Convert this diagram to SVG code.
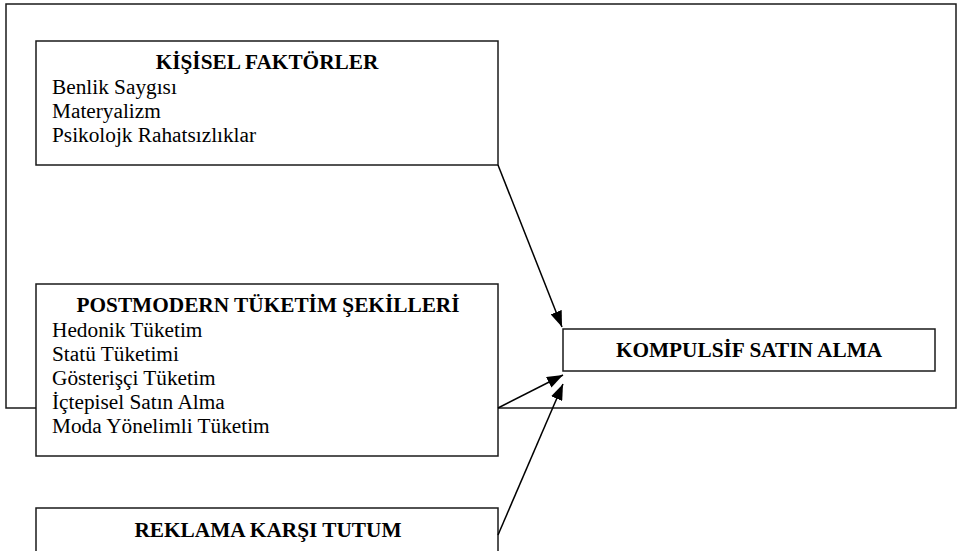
<svg xmlns="http://www.w3.org/2000/svg" width="958" height="551" viewBox="0 0 958 551">
<style>
.box{fill:#fff;stroke:#1a1a1a;stroke-width:1.5}
.frame{fill:none;stroke:#1a1a1a;stroke-width:1.5}
.t{font-family:"Liberation Serif","Times New Roman",serif;font-size:21.3px;fill:#000}
.b{font-weight:bold;text-anchor:middle}
.conn{stroke:#000;stroke-width:1.5;fill:none}
</style>
<defs>
<marker id="ah" markerUnits="userSpaceOnUse" markerWidth="16" markerHeight="12" viewBox="0 0 16 12" refX="16" refY="6" orient="auto">
<path d="M0,0 L16,6 L0,12 Z" fill="#000"/>
</marker>
</defs>
<rect class="frame" x="6" y="4" width="950" height="404"/>
<g id="kisisel">
<rect class="box" x="36" y="41" width="462" height="124"/>
<text class="t b" x="267" y="69">KİŞİSEL FAKTÖRLER</text>
<text class="t" x="52" y="94">Benlik Saygısı</text>
<text class="t" x="52" y="118">Materyalizm</text>
<text class="t" x="52" y="142">Psikolojk Rahatsızlıklar</text>
</g>
<g id="postmodern">
<rect class="box" x="36" y="284" width="462" height="172"/>
<text class="t b" x="268" y="312">POSTMODERN TÜKETİM ŞEKİLLERİ</text>
<text class="t" x="52" y="337">Hedonik Tüketim</text>
<text class="t" x="52" y="361">Statü Tüketimi</text>
<text class="t" x="52" y="385">Gösterişçi Tüketim</text>
<text class="t" x="52" y="409">İçtepisel Satın Alma</text>
<text class="t" x="52" y="433">Moda Yönelimli Tüketim</text>
</g>
<g id="reklama">
<rect class="box" x="36" y="508" width="462" height="60"/>
<text class="t b" x="268" y="537">REKLAMA KARŞI TUTUM</text>
</g>
<g id="kompulsif">
<rect class="box" x="563" y="329" width="372" height="42"/>
<text class="t b" x="749" y="357">KOMPULSİF SATIN ALMA</text>
</g>
<g id="connectors">
<line class="conn" x1="498" y1="165" x2="562" y2="327" marker-end="url(#ah)"/>
<line class="conn" x1="498" y1="408" x2="563" y2="375" marker-end="url(#ah)"/>
<line class="conn" x1="498" y1="535" x2="563" y2="384" marker-end="url(#ah)"/>
</g>
</svg>
